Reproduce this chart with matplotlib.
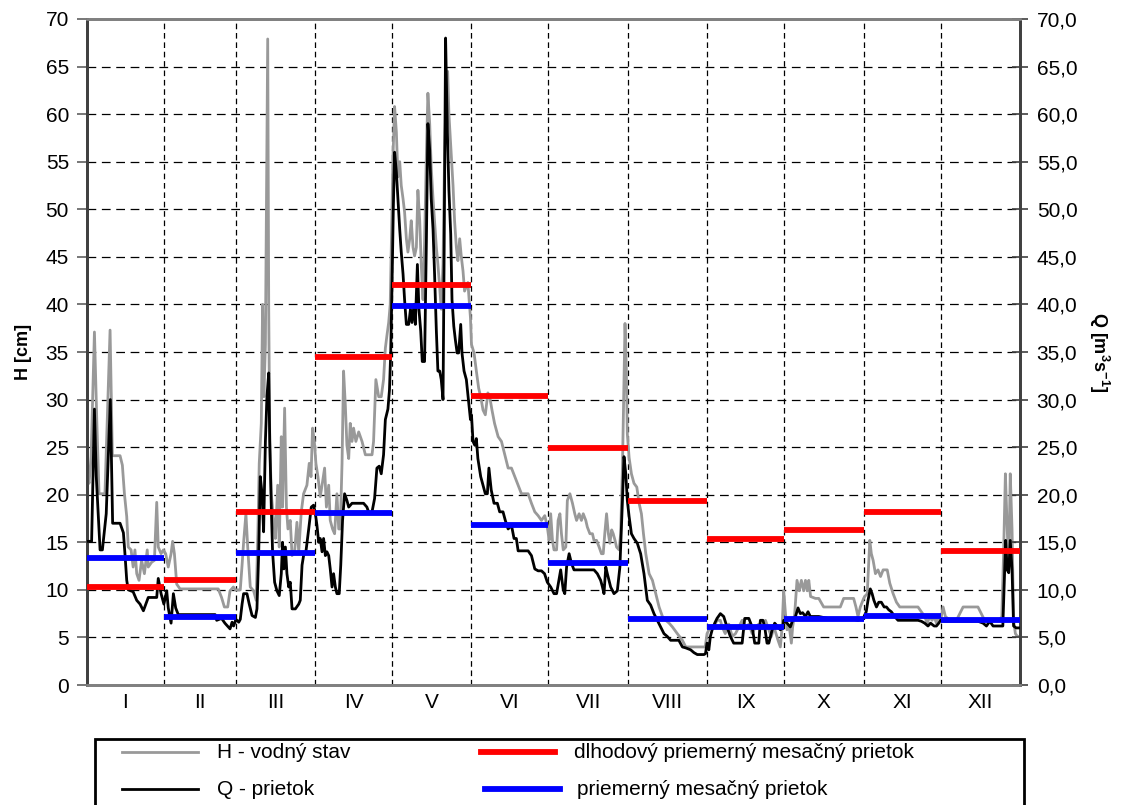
import matplotlib
matplotlib.use("Agg")
import matplotlib.pyplot as plt
from matplotlib.lines import Line2D
from matplotlib.patches import Rectangle
from matplotlib.ticker import FixedLocator, FuncFormatter

plt.rcParams['font.family'] = ['Liberation Sans', 'DejaVu Sans']
plt.rcParams['mathtext.fontset'] = 'custom'
plt.rcParams['mathtext.rm'] = 'Liberation Sans'
plt.rcParams['mathtext.bf'] = 'Liberation Sans:bold'

# Month labels and last day of each month (day-of-year)
months = ["I", "II", "III", "IV", "V", "VI", "VII", "VIII", "IX", "X", "XI", "XII"]
month_edges = [1, 31, 59, 90, 120, 151, 181, 212, 243, 273, 304, 334, 365]

# Long-term mean monthly discharge [m3/s]
q_longterm = [10.3, 11.0, 18.2, 34.5, 42.0, 30.4, 24.9, 19.3, 15.3, 16.3, 18.2, 14.1]
# Mean monthly discharge of the year [m3/s]
q_monthly = [13.3, 7.1, 13.9, 18.1, 39.8, 16.8, 12.8, 6.9, 6.1, 6.9, 7.3, 6.8]

# Water stage H [cm]: (day of year, value)
h_stage = [
    (1.0, 22.1), (1.8, 21.2), (2.6, 24.0), (3.9, 37.1), (4.8, 28.0), (5.7, 20.1), (8.0, 20.1),
    (10.0, 37.3), (10.9, 24.1), (13.9, 24.1), (14.8, 23.1), (15.6, 20.1), (16.5, 17.7), (17.1, 14.5),
    (18.2, 14.2), (19.0, 12.4), (19.7, 14.2), (20.4, 11.7), (21.3, 11.0), (22.3, 13.1), (23.4, 11.7),
    (24.5, 14.2), (24.9, 12.4), (26.2, 12.9), (27.3, 13.1), (28.2, 19.2), (28.8, 14.5), (29.9, 13.8),
    (30.8, 14.2), (31.7, 13.8), (32.7, 12.4), (33.8, 13.8), (34.4, 15.1), (35.1, 13.8), (36.0, 10.6),
    (37.3, 10.1), (52.2, 10.1), (53.5, 9.2), (54.6, 8.2), (55.9, 8.2), (56.8, 9.9), (58.1, 10.3),
    (58.9, 10.0), (60.8, 10.0), (61.5, 12.6), (62.1, 15.0), (63.0, 18.0), (63.8, 14.0), (64.7, 10.3),
    (66.0, 9.9), (67.0, 8.9), (67.7, 16.4), (68.2, 23.3), (69.0, 27.5), (69.5, 40.0), (70.0, 30.3),
    (70.6, 35.8), (71.1, 53.4), (71.5, 67.9), (71.9, 39.5), (72.3, 25.6), (72.9, 20.1), (73.8, 17.3),
    (74.5, 15.4), (75.4, 21.0), (76.0, 14.5), (76.8, 26.1), (77.3, 18.7), (78.1, 29.1), (78.8, 18.7),
    (79.4, 16.4), (80.3, 17.3), (81.0, 13.6), (82.0, 14.0), (82.9, 17.1), (83.6, 14.0), (84.6, 18.2),
    (85.5, 20.1), (86.8, 21.0), (87.7, 23.3), (88.4, 21.9), (89.0, 27.0), (89.7, 25.6), (90.3, 23.3),
    (91.1, 21.9), (92.0, 19.8), (92.7, 21.0), (93.7, 22.8), (94.4, 18.7), (95.3, 21.0), (95.9, 17.3),
    (96.8, 16.4), (97.6, 15.9), (98.5, 20.1), (99.2, 16.4), (99.8, 16.4), (100.5, 23.3), (101.1, 33.0),
    (101.8, 29.3), (102.4, 25.2), (103.1, 23.8), (103.7, 27.5), (104.4, 25.6), (105.0, 27.0),
    (105.9, 25.6), (107.0, 26.6), (108.3, 25.6), (109.6, 24.2), (112.2, 24.2), (112.8, 25.6),
    (113.7, 32.1), (114.8, 30.3), (115.8, 30.3), (116.7, 32.1), (117.4, 35.4), (118.0, 36.7),
    (118.7, 38.1), (119.3, 40.0), (119.8, 47.0), (120.4, 55.7), (121.0, 60.8), (121.7, 58.1),
    (122.3, 53.4), (123.0, 55.0), (123.6, 52.5), (124.3, 51.1), (124.9, 49.7), (125.6, 46.9),
    (126.2, 45.5), (126.9, 46.9), (127.5, 48.8), (128.2, 46.0), (128.8, 45.1), (129.5, 46.0),
    (130.1, 52.0), (130.8, 48.8), (131.4, 44.2), (132.1, 40.5), (132.7, 46.5), (133.4, 55.7),
    (134.0, 62.2), (134.7, 59.0), (135.3, 54.4), (136.0, 51.1), (136.6, 48.8), (137.3, 46.0),
    (137.9, 44.2), (138.6, 41.8), (139.2, 39.5), (139.9, 44.2), (140.5, 55.7), (141.2, 63.0),
    (141.7, 64.5), (142.2, 60.0), (142.9, 56.7), (143.8, 52.5), (144.4, 48.8), (145.1, 46.0),
    (145.7, 44.6), (146.4, 46.9), (147.0, 45.1), (147.7, 43.5), (148.3, 41.4), (149.6, 42.3),
    (150.6, 38.6), (151.0, 35.8), (152.0, 34.9), (152.9, 33.0), (153.8, 31.2), (154.6, 30.3),
    (155.5, 28.9), (156.4, 28.4), (157.4, 30.7), (158.1, 30.3), (159.0, 28.9), (160.0, 27.5),
    (161.4, 26.1), (162.7, 25.6), (164.0, 24.2), (165.3, 22.8), (166.6, 22.8), (167.9, 21.9),
    (169.2, 21.0), (170.5, 20.1), (173.1, 20.1), (174.4, 19.1), (175.7, 18.2), (177.0, 17.8),
    (178.3, 17.3), (179.6, 17.8), (180.6, 16.6), (181.3, 15.2), (181.9, 18.0), (182.6, 15.2),
    (183.2, 14.2), (184.2, 14.2), (184.8, 17.3), (185.5, 18.0), (186.1, 15.9), (186.8, 14.2),
    (187.8, 14.5), (188.4, 19.4), (189.4, 20.1), (190.4, 19.1), (191.3, 18.0), (192.0, 17.3),
    (193.0, 18.0), (193.9, 17.3), (194.6, 18.0), (195.6, 17.3), (196.2, 16.6), (197.2, 15.9),
    (198.2, 15.9), (198.8, 15.2), (199.8, 15.2), (200.8, 14.5), (201.7, 13.8), (202.4, 13.8),
    (203.0, 15.9), (203.7, 18.0), (204.4, 15.9), (205.0, 14.9), (205.7, 16.3), (206.3, 15.9),
    (207.0, 15.2), (207.6, 14.5), (208.6, 14.2), (209.2, 15.9), (209.9, 22.9), (210.5, 31.7),
    (210.9, 38.0), (211.4, 33.5), (211.8, 26.4), (212.5, 23.9), (213.4, 22.2), (214.4, 21.2),
    (215.5, 20.8), (216.4, 19.1), (217.3, 18.0), (218.1, 15.9), (219.0, 13.8), (220.3, 11.7),
    (221.6, 11.0), (222.9, 9.6), (224.2, 8.2), (225.5, 7.2), (226.8, 6.8), (228.1, 6.5),
    (229.4, 6.1), (231.3, 5.4), (233.3, 4.7), (234.6, 4.0), (241.1, 4.0), (242.2, 4.0),
    (242.9, 5.4), (244.2, 6.1), (245.5, 6.1), (246.8, 6.8), (248.1, 6.8), (248.8, 6.1), (250.0, 5.4),
    (251.4, 6.4), (252.7, 5.1), (254.0, 5.4), (255.3, 6.1), (256.6, 6.8), (257.9, 5.9), (259.2, 6.4),
    (260.5, 5.4), (261.8, 6.1), (263.1, 6.4), (264.4, 5.9), (265.7, 6.8), (267.0, 5.8), (268.0, 5.1),
    (269.0, 6.1), (269.8, 5.4), (270.6, 4.7), (271.5, 4.0), (272.2, 6.1), (272.8, 9.9), (273.5, 7.5),
    (274.1, 5.8), (275.0, 6.1), (275.8, 4.4), (276.3, 6.1), (277.1, 7.5), (278.0, 11.0), (278.9, 9.9),
    (279.7, 11.0), (280.6, 9.9), (281.3, 11.0), (282.0, 9.9), (282.6, 11.0), (283.3, 9.3),
    (285.2, 9.1), (286.5, 9.1), (288.4, 8.2), (294.9, 8.2), (296.2, 9.1), (300.1, 9.1), (301.0, 8.2),
    (301.8, 7.2), (302.7, 8.2), (304.0, 9.1), (304.4, 9.3), (305.4, 9.6), (306.4, 15.2), (307.0, 13.8),
    (307.7, 13.1), (308.6, 11.7), (309.6, 12.1), (310.6, 11.4), (311.6, 12.1), (313.2, 12.1),
    (314.2, 10.7), (315.5, 9.6), (316.8, 8.7), (318.1, 8.2), (325.2, 8.2), (326.5, 7.7), (327.8, 7.2),
    (328.8, 6.5), (329.8, 7.2), (330.7, 6.8), (331.5, 7.2), (332.4, 6.5), (333.0, 7.2), (334.0, 6.8),
    (335.0, 8.2), (335.9, 7.2), (337.6, 6.8), (340.2, 6.8), (341.5, 7.5), (342.8, 8.2), (348.6, 8.2),
    (349.9, 7.5), (351.2, 6.8), (357.0, 6.8), (357.9, 7.2), (358.6, 13.8), (359.3, 22.2),
    (359.9, 17.3), (360.6, 12.1), (361.2, 22.2), (361.9, 16.3), (362.5, 6.8), (363.2, 5.4),
    (364.0, 5.1), (365.0, 5.1),
]

# Discharge Q [m3/s]: (day of year, value)
q_flow = [
    (1.0, 15.1), (2.8, 15.1), (3.9, 29.0), (4.6, 22.0), (6.1, 14.2), (7.0, 14.2), (8.5, 18.0),
    (10.1, 30.0), (11.0, 17.0), (13.9, 17.0), (15.2, 16.0), (15.8, 13.8), (16.5, 11.0), (17.1, 10.0),
    (19.0, 9.8), (20.4, 8.9), (21.7, 8.5), (23.0, 7.8), (24.9, 9.2), (28.2, 9.2), (28.8, 11.2),
    (29.9, 9.6), (31.0, 8.5), (32.1, 9.9), (32.7, 8.1), (33.8, 6.5), (34.7, 9.6), (35.6, 8.1),
    (36.6, 7.4), (51.0, 7.4), (51.6, 6.8), (53.5, 7.0), (54.8, 6.5), (56.8, 5.9), (57.6, 6.6),
    (58.2, 6.2), (59.1, 6.9), (60.2, 6.6), (60.8, 6.9), (61.5, 8.5), (62.1, 9.6), (63.4, 9.6),
    (64.3, 8.5), (65.4, 7.3), (66.7, 7.1), (67.3, 8.0), (68.0, 14.0), (68.6, 21.9), (69.3, 20.1),
    (69.9, 16.1), (70.6, 25.6), (71.2, 30.3), (71.9, 32.8), (72.3, 25.6), (72.9, 18.7), (73.4, 14.0),
    (74.2, 10.8), (75.1, 9.9), (76.0, 9.4), (76.8, 11.7), (77.3, 15.0), (77.8, 12.2), (78.4, 14.5),
    (79.0, 11.7), (79.7, 10.3), (80.3, 10.8), (81.0, 8.0), (82.3, 8.0), (83.6, 8.5), (84.2, 8.9),
    (84.9, 12.6), (85.5, 13.6), (86.4, 14.0), (87.5, 16.4), (88.5, 18.7), (89.4, 18.9), (90.1, 18.0),
    (90.7, 16.8), (91.4, 15.0), (92.0, 15.4), (92.7, 14.0), (93.3, 15.4), (94.0, 13.6), (94.6, 14.0),
    (95.3, 13.6), (95.9, 12.2), (96.6, 10.3), (97.2, 11.7), (97.9, 10.3), (98.5, 9.6), (99.4, 9.6),
    (100.0, 12.6), (100.7, 17.3), (101.5, 20.1), (102.4, 19.4), (103.1, 18.7), (104.4, 19.1),
    (108.9, 19.1), (110.2, 18.7), (111.1, 18.0), (112.2, 18.2), (113.2, 19.6), (114.1, 22.8),
    (115.0, 23.0), (115.8, 22.2), (116.7, 24.2), (117.4, 27.9), (118.4, 29.0), (119.0, 31.0),
    (119.5, 35.0), (120.0, 42.0), (120.5, 50.0), (121.0, 56.0), (121.7, 53.9), (122.3, 51.1),
    (123.0, 47.9), (123.6, 45.5), (124.3, 43.2), (124.9, 40.5), (125.6, 37.9), (126.5, 37.9),
    (127.2, 39.5), (127.8, 38.1), (128.6, 40.0), (129.1, 37.9), (129.9, 44.2), (130.5, 39.5),
    (131.2, 37.2), (131.8, 34.0), (132.7, 34.0), (133.4, 46.5), (134.0, 59.0), (134.7, 56.2),
    (135.3, 51.1), (136.0, 47.9), (136.6, 43.2), (137.3, 37.2), (137.9, 33.0), (138.6, 33.0),
    (139.2, 32.1), (139.9, 30.0), (140.3, 44.2), (140.9, 68.0), (141.6, 58.1), (142.2, 52.0),
    (142.9, 47.4), (143.4, 40.5), (144.1, 37.7), (144.7, 36.3), (145.4, 34.9), (146.0, 34.9),
    (146.8, 37.9), (147.3, 34.9), (148.1, 33.0), (149.0, 32.1), (149.7, 30.3), (150.6, 27.9),
    (151.0, 28.4), (151.6, 25.6), (152.3, 25.2), (152.9, 25.9), (153.5, 23.8), (154.6, 21.9),
    (155.5, 21.0), (156.4, 20.1), (157.2, 20.1), (157.8, 22.8), (158.7, 20.5), (159.8, 19.1),
    (161.1, 19.1), (162.0, 18.2), (163.3, 18.2), (164.2, 17.3), (165.3, 16.4), (166.6, 16.8),
    (167.6, 15.4), (168.5, 15.4), (169.2, 14.1), (173.1, 14.1), (174.4, 13.6), (175.7, 12.2),
    (177.0, 12.0), (178.3, 12.0), (179.5, 11.7), (180.6, 10.8), (181.9, 10.3), (183.2, 9.6),
    (184.2, 9.6), (185.1, 11.0), (185.8, 12.1), (186.8, 10.0), (187.4, 9.6), (188.1, 12.4),
    (189.1, 13.8), (190.0, 12.8), (191.0, 12.1), (198.8, 12.1), (200.1, 11.7), (201.4, 11.0),
    (202.1, 10.3), (202.7, 9.6), (203.4, 12.4), (204.0, 11.7), (205.3, 10.3), (206.6, 9.6),
    (207.9, 9.9), (208.9, 12.4), (209.9, 19.4), (210.5, 24.0), (211.2, 22.2), (211.8, 19.4),
    (212.5, 17.7), (213.4, 15.9), (214.4, 15.4), (215.7, 14.9), (217.0, 13.8), (218.3, 11.7),
    (219.6, 8.9), (220.9, 8.4), (222.2, 7.5), (223.5, 6.8), (224.8, 6.1), (226.1, 5.4), (227.4, 5.1),
    (228.7, 4.7), (231.9, 4.7), (233.3, 4.0), (234.6, 3.9), (236.5, 3.7), (237.8, 3.4), (239.1, 3.2),
    (240.4, 3.2), (241.7, 3.2), (242.3, 3.3), (242.9, 4.4), (243.6, 3.7), (244.2, 5.1), (244.9, 5.8),
    (245.9, 6.5), (246.8, 7.0), (248.1, 7.5), (249.4, 7.2), (250.7, 6.1), (252.0, 5.1), (253.3, 4.4),
    (256.6, 4.4), (257.6, 7.0), (259.2, 7.0), (260.5, 6.1), (261.5, 4.4), (263.1, 4.4), (263.7, 6.8),
    (264.7, 6.8), (265.4, 6.1), (266.3, 4.4), (267.0, 4.4), (268.3, 5.8), (269.3, 6.5), (270.6, 6.1),
    (271.5, 5.8), (272.4, 6.0), (272.8, 6.8), (274.1, 6.5), (275.4, 6.1), (276.3, 6.8), (277.4, 7.2),
    (278.4, 8.1), (279.3, 7.5), (280.2, 7.6), (281.3, 7.2), (282.3, 7.7), (283.2, 7.2), (286.5, 7.2),
    (290.0, 7.0), (295.0, 6.9), (300.0, 6.9), (301.8, 6.8), (303.8, 7.0), (305.0, 7.7), (305.7, 8.9),
    (306.6, 10.1), (307.3, 9.6), (308.0, 8.9), (309.0, 8.2), (309.9, 8.7), (310.9, 8.7), (312.0, 8.2),
    (312.9, 8.2), (313.8, 7.9), (314.8, 7.7), (316.1, 7.2), (317.4, 6.8), (325.2, 6.8), (326.5, 6.7),
    (327.8, 6.5), (329.1, 6.2), (330.1, 6.5), (331.5, 6.2), (332.4, 6.2), (333.3, 6.5), (334.0, 6.8),
    (335.6, 6.7), (348.6, 6.7), (350.6, 6.5), (351.9, 6.2), (353.2, 6.7), (354.5, 6.2), (358.3, 6.2),
    (359.0, 12.1), (359.4, 15.2), (360.0, 12.1), (360.6, 11.8), (361.2, 15.2), (361.9, 12.1),
    (362.5, 6.2), (363.5, 6.0), (365.0, 6.0),
]

W, H = 1125, 805
fig = plt.figure(figsize=(W / 100, H / 100), dpi=100)


def fx(px):
    return px / W


def fy(py):
    return 1 - py / H


ax = fig.add_axes([fx(87), fy(685), fx(1020) - fx(87), fy(19) - fy(685)])
ax2 = ax.twinx()

FS = 15
y_ticks = list(range(0, 71, 5))

for a in (ax, ax2):
    a.set_xlim(1, 365)
    a.set_ylim(0, 70)
    a.set_xticks([])

ax.yaxis.set_major_locator(FixedLocator(y_ticks))
ax2.yaxis.set_major_locator(FixedLocator(y_ticks))
ax2.yaxis.set_major_formatter(FuncFormatter(lambda v, p: f"{v:.1f}".replace(".", ",")))
ax.tick_params(axis="y", direction="out", length=7, width=1.2, color="#606060", labelsize=FS, pad=6)
ax2.tick_params(axis="y", direction="inout", length=12, width=1.2, color="#404040", labelsize=FS, pad=6)

for a in (ax, ax2):
    a.spines["left"].set_color("#404040")
    a.spines["right"].set_color("#404040")
    a.spines["top"].set_color("#808080")
    a.spines["bottom"].set_color("#808080")
    for s in a.spines.values():
        s.set_linewidth(2)

# horizontal dashed grid
for v in y_ticks[1:-1]:
    ax.axhline(v, color="black", lw=0.9, dashes=(7, 4.5), zorder=1)
# month boundaries
for b in month_edges[1:-1]:
    ax.axvline(b, color="black", lw=0.9, dashes=(4.5, 3), zorder=1)

# daily series
h_days = [d for d, _ in h_stage]
h_vals = [v for _, v in h_stage]
q_days = [d for d, _ in q_flow]
q_vals = [v for _, v in q_flow]
ax.plot(h_days, h_vals, color="#999999", lw=2.0, zorder=3)
ax2.plot(q_days, q_vals, color="black", lw=2.0, zorder=3)

# monthly means
starts = month_edges[:-1]
ends = month_edges[1:]
ax2.hlines(q_longterm, starts, ends, colors="#ff0000", lw=4.2, zorder=4)
ax2.hlines(q_monthly, starts, ends, colors="#0000ff", lw=4.2, zorder=5)

# month labels
for i, m in enumerate(months):
    xc = (starts[i] + ends[i]) / 2
    ax.text(xc, -0.8, m, ha="center", va="top", fontsize=FS)

ax.set_ylabel("H [cm]", fontsize=13, fontweight="bold", labelpad=10)
ax2.set_ylabel(r"Q [m$^{\mathbf{3}}$s$^{\mathbf{-1}}$]", fontsize=13, fontweight="bold",
               rotation=270, labelpad=24)

# legend box
fig.add_artist(Rectangle((fx(95), fy(840)), fx(1024) - fx(95), fy(739) - fy(840),
                         transform=fig.transFigure, fill=False, edgecolor="black", lw=2))
legend_items = [
    (122, 198, 752, "#999999", 2.0, 217, "H - vodný stav"),
    (122, 198, 789, "black", 2.0, 217, "Q - prietok"),
    (481, 555, 752, "#ff0000", 4.2, 574, "dlhodový priemerný mesačný prietok"),
    (485, 560, 789, "#0000ff", 4.2, 577, "priemerný mesačný prietok"),
]
for x0, x1, yy, col, lw, tx, label in legend_items:
    fig.add_artist(Line2D([fx(x0), fx(x1)], [fy(yy), fy(yy)], transform=fig.transFigure,
                          color=col, lw=lw))
    fig.text(fx(tx), fy(yy), label, fontsize=15, ha="left", va="center")

fig.savefig("out.png", dpi=100)
